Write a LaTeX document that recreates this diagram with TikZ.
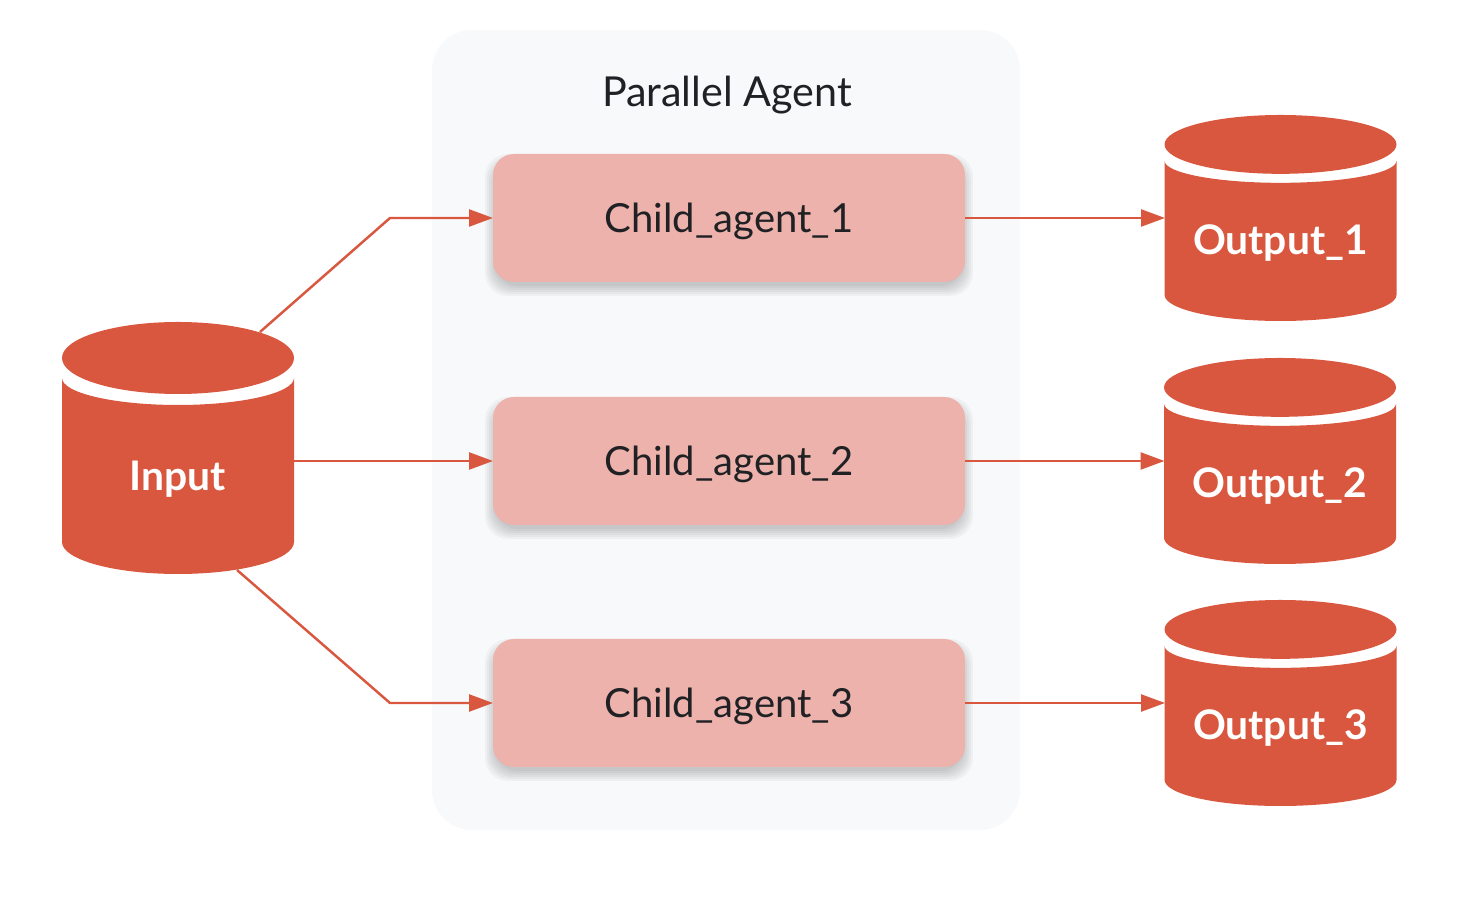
\documentclass[tikz,border=0pt]{standalone}
\usepackage{fontspec}
\setmainfont{Lato}
\usetikzlibrary{arrows.meta}

\definecolor{dbred}{HTML}{D9573E}
\definecolor{boxpink}{HTML}{EDB2AC}
\definecolor{panelgray}{HTML}{F8F9FB}
\definecolor{inkgray}{HTML}{202124}

\tikzset{
  panelbox/.style={fill=panelgray,rounded corners=0.8cm,minimum width=11.76cm,minimum height=16cm,outer sep=0},
  childbox/.style={fill=boxpink,text=inkgray,rounded corners=0.42cm,minimum width=9.44cm,minimum height=2.56cm,outer sep=0,inner sep=0,
    text height=0.7cm,text depth=0.1cm,font=\fontsize{22.8}{26}\selectfont},
  softshadow/.style={fill=black,opacity=0.035,rounded corners=0.46cm},
  dbbox/.style={minimum width=4.62cm,outer sep=0,inner sep=0},
  dblabel/.style={text=white,font=\fontsize{23.2}{27}\selectfont\bfseries},
  link/.style={draw=dbred,line width=1.4pt,-{Triangle[length=0.48cm,width=0.34cm]}}
}

\newcommand{\childagent}[3]{
\begin{scope}[shift={(14.58,#2)}]
\foreach \s in {0.2,0.16,0.12,0.08,0.04,0} {
  \fill[softshadow] (-4.68-\s,-1.36-\s) rectangle (4.68+\s,1.08+\s);
}
\node[childbox] (#1) at (0,0) {#3};
\end{scope}
}

\newcommand{\dbcyl}[4]{
\begin{scope}[shift={#2},yscale=#3/5.04]
\fill[dbred] (0,1.80) ellipse (2.32 and 0.72);
\fill[dbred] (-2.32,1.40) arc (180:360:2.32 and 0.54) -- (2.32,-1.88) arc (0:-180:2.32 and 0.64) -- cycle;
\node[dbbox,minimum height=#3cm] (#1) at (0,0) {};
\node[dblabel] (#1label) at (0,-0.62) {#4};
\end{scope}
}

\begin{document}
\begin{tikzpicture}

\useasboundingbox (0,0) rectangle (29.48,17.96);

\node[panelbox] (panel) at (14.52,9.36) {};
\node[text=inkgray,font=\fontsize{23.5}{27}\selectfont] (paneltitle) at (14.54,16.06) {Parallel Agent};

\childagent{child1}{13.6}{Child\_agent\_1}
\childagent{child2}{8.74}{Child\_agent\_2}
\childagent{child3}{3.9}{Child\_agent\_3}

\dbcyl{input}{(3.56,9.0)}{5.04}{Input}
\dbcyl{output1}{(25.61,13.6)}{4.12}{Output\_1}
\dbcyl{output2}{(25.6,8.74)}{4.12}{Output\_2}
\dbcyl{output3}{(25.61,3.9)}{4.12}{Output\_3}

\coordinate (intop) at (5.2,11.32);
\coordinate (inbot) at (4.74,6.56);
\coordinate (bend1) at (7.8,13.6);
\coordinate (bend3) at (7.8,3.9);

\draw[link] (intop) -- (bend1) -- (child1.west);
\draw[link] (input.east |- child2.west) -- (child2.west);
\draw[link] (inbot) -- (bend3) -- (child3.west);

\draw[link] (child1.east) -- (output1.west);
\draw[link] (child2.east) -- (output2.west);
\draw[link] (child3.east) -- (output3.west);

\end{tikzpicture}
\end{document}
